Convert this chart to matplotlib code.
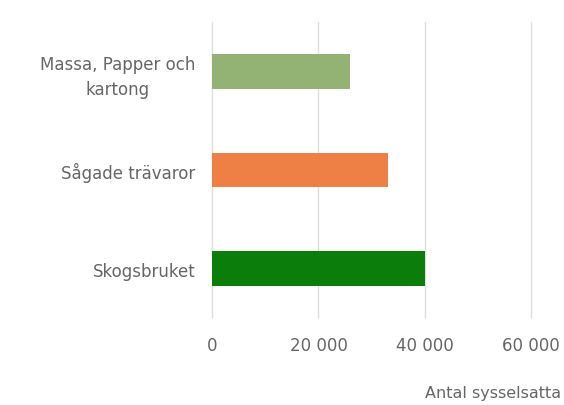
import matplotlib.pyplot as plt
from matplotlib.ticker import FuncFormatter

# data
categories = ["Skogsbruket", "Sågade trävaror", "Massa, Papper och\nkartong"]
employed = [40000, 33000, 26000]
bar_colors = ["#0a7d0a", "#ef8045", "#93b374"]
x_ticks = [0, 20000, 40000, 60000]

plt.rcParams['font.family'] = ['DejaVu Sans']

fig = plt.figure(figsize=(5.64, 4.06), dpi=100)
ax = fig.add_axes([0.376, 0.217, 0.566, 0.726])

ax.barh(range(len(categories)), employed, height=0.35, color=bar_colors, zorder=3)

ax.set_xlim(0, 60000)
ax.set_ylim(-0.49, 2.5)
ax.set_xticks(x_ticks)
ax.xaxis.set_major_formatter(FuncFormatter(lambda v, p: f"{int(v):,}".replace(",", " ")))
ax.set_yticks(range(len(categories)))
ax.set_yticklabels(categories, ha="right", multialignment="center", linespacing=1.5)

# grid only, no frame
ax.grid(axis="x", color="#dedede", linewidth=1, zorder=0)
for gl in ax.get_xgridlines():
    gl.set_clip_on(False)
for side in ax.spines.values():
    side.set_visible(False)
ax.tick_params(axis="both", length=0, colors="#666666", labelsize=12)
ax.tick_params(axis="x", pad=14)
ax.tick_params(axis="y", pad=12)

fig.text(0.995, 0.032, "Antal sysselsatta", ha="right", va="center",
         fontsize=11.5, color="#666666")

fig.savefig("out.png", dpi=100)
